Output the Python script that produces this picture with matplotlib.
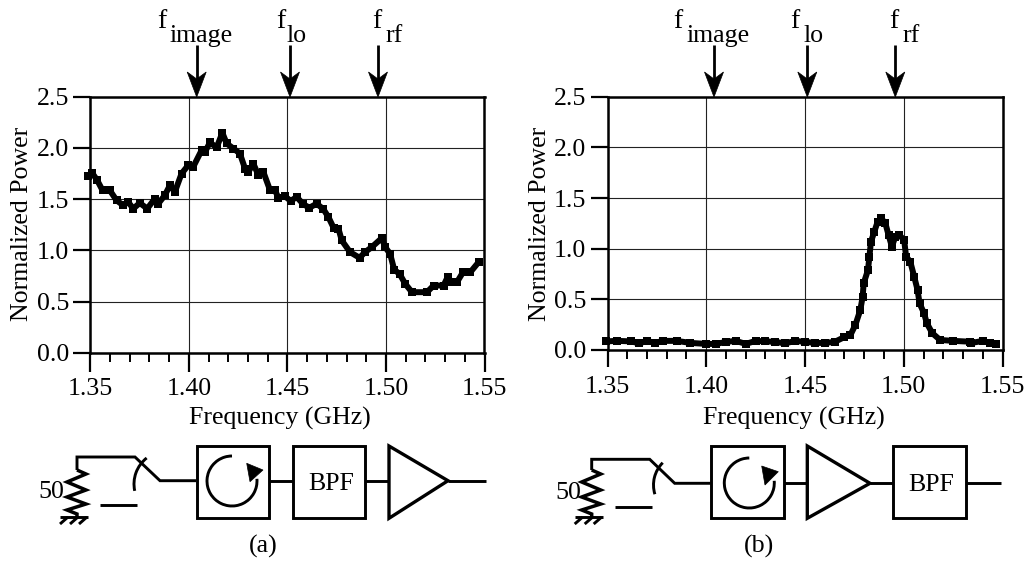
import numpy as np
import matplotlib
matplotlib.use("Agg")
import matplotlib.pyplot as plt
from matplotlib.patches import Polygon, Rectangle, Arc

plt.rcParams['font.family'] = ['Liberation Serif', 'DejaVu Serif']

W, H = 1029, 561
FS = 18.6

left_freq = [1.3489,1.3509,1.3535,1.3562,1.3599,1.3633,1.3667,1.3692,1.3718,1.3751,1.3789,1.3828,1.3845,1.3878,
             1.3904,1.3929,1.3963,1.3997,1.4022,1.4065,1.4082,1.4107,1.4141,1.4170,1.4192,1.4226,1.4259,1.4285,
             1.4302,1.4327,1.4353,1.4378,1.4412,1.4437,1.4454,1.4488,1.4517,1.4547,1.4581,1.4612,1.4649,1.4683,
             1.4708,1.4734,1.4759,1.4776,1.4818,1.4866,1.4894,1.4928,1.4979,1.4996,1.5021,1.5042,1.5069,1.5098,
             1.5132,1.5208,1.5242,1.5292,1.5313,1.5335,1.5360,1.5391,1.5428,1.5470]
left_power = [1.727,1.756,1.684,1.586,1.586,1.488,1.439,1.472,1.407,1.462,1.407,1.505,1.456,1.537,
              1.635,1.570,1.749,1.831,1.814,1.978,1.961,2.053,2.004,2.147,2.043,1.994,1.945,1.798,
              1.765,1.847,1.733,1.765,1.586,1.586,1.514,1.527,1.482,1.521,1.449,1.416,1.456,1.400,
              1.325,1.221,1.211,1.096,0.982,0.927,0.982,1.031,1.119,1.031,0.966,0.810,0.770,0.672,
              0.591,0.591,0.656,0.656,0.738,0.688,0.688,0.786,0.786,0.884]

right_freq = [1.349,1.355,1.362,1.366,1.370,1.374,1.378,1.385,1.392,1.400,1.405,1.410,1.415,1.420,1.425,1.430,
              1.435,1.440,1.445,1.450,1.455,1.460,1.465,1.4697,1.473,1.4755,1.478,1.4792,1.4797,1.4819,1.4826,
              1.4834,1.4851,1.4868,1.4886,1.4907,1.4923,1.494,1.4957,1.4977,1.5002,1.5012,1.5033,1.5053,1.507,
              1.508,1.5103,1.5117,1.5145,1.5184,1.5251,1.5335,1.5343,1.5402,1.5436,1.5469]
right_power = [0.085,0.09,0.085,0.065,0.09,0.07,0.09,0.09,0.07,0.06,0.06,0.08,0.09,0.06,0.09,0.085,
               0.08,0.065,0.09,0.08,0.07,0.07,0.08,0.125,0.148,0.247,0.395,0.526,0.658,0.790,0.921,
               1.069,1.168,1.267,1.300,1.250,1.135,1.020,1.118,1.135,1.086,0.921,0.872,0.723,0.592,
               0.461,0.362,0.263,0.165,0.099,0.09,0.082,0.07,0.09,0.067,0.06]

x_major = [1.35, 1.40, 1.45, 1.50, 1.55]
x_minor = [1.36,1.37,1.38,1.39,1.41,1.42,1.43,1.44,1.46,1.47,1.48,1.49,1.51,1.52,1.53,1.54]
y_major = [0.0, 0.5, 1.0, 1.5, 2.0, 2.5]
x_labels = ['1.35', '1.40', '1.45', '1.50', '1.55']
y_labels = ['0.0', '0.5', '1.0', '1.5', '2.0', '2.5']

fig = plt.figure(figsize=(W / 100, H / 100), dpi=100, facecolor='white')


def make_axes(x0, x1, y0, y1, fx, fy, major_len, xpad):
    ax = fig.add_axes([x0 / W, 1 - y1 / H, (x1 - x0) / W, (y1 - y0) / H])
    ax.set_xlim(1.35, 1.55)
    ax.set_ylim(0, 2.5)
    ax.grid(True, which='major', color='#222222', lw=0.8)
    ax.set_axisbelow(True)
    ax.plot(fx, fy, color='black', lw=4.3, marker='s', ms=5.6, mew=0, clip_on=False, zorder=3)
    ax.set_xticks(x_major, x_labels, fontsize=FS)
    ax.set_xticks(x_minor, minor=True)
    ax.set_yticks(y_major, y_labels, fontsize=FS)
    ax.tick_params(axis='x', which='major', length=major_len, width=1.6, pad=xpad)
    ax.tick_params(axis='x', which='minor', length=6.8, width=1.4)
    ax.tick_params(axis='y', which='major', length=12.4, width=1.6, pad=3)
    for s in ax.spines.values():
        s.set_linewidth(1.8)
    return ax


make_axes(90.3, 484.5, 96.7, 352.7, left_freq, left_power, 13.9, 4)
make_axes(607.5, 1002.5, 96.7, 350.0, right_freq, right_power, 12.0, 7)

ov = fig.add_axes([0, 0, 1, 1], facecolor='none', zorder=10)
ov.set_xlim(0, W)
ov.set_ylim(H, 0)
ov.axis('off')
LW = 2.1


def wire(xs, ys, lw=LW):
    ov.plot(xs, ys, color='black', lw=lw, solid_capstyle='butt', solid_joinstyle='miter')


def box(x0, x1, y0, y1):
    ov.add_patch(Rectangle((x0, y0), x1 - x0, y1 - y0, fill=False, ec='black', lw=LW))


def text(x, y, s, **kw):
    kw.setdefault('ha', 'center')
    kw.setdefault('va', 'center')
    ov.text(x, y, s, fontsize=FS, color='black', **kw)


def arrow(x):
    wire([x, x], [45, 82], lw=2.0)
    ov.add_patch(Polygon([(x, 97), (x - 9.5, 72), (x, 79), (x + 9.5, 72)], fc='black', ec='black', lw=0.5))


def header(f_pos, sub_pos, arrows):
    for fx_, sx_, s, a in zip(f_pos, sub_pos, ['image', 'lo', 'rf'], arrows):
        ov.text(fx_, 28, 'f', fontsize=FS + 1.5, ha='left', va='baseline')
        text(sx_, 41.5, s, ha='left', va='baseline')
        arrow(a)


def front_end(x, top_y, mid_y, low_y, arc_c, arc_d, arc_t, circ, head):
    wire([x, x, x + 58, x + 83, x + 119], [470, top_y, top_y, mid_y, mid_y])
    zig_x = [x, x + 9, x - 10, x + 9, x - 10, x + 9, x - 10, x, x]
    zig_y = [470, 474, 482, 490, 497, 504, 510, 514, 517]
    wire(zig_x, zig_y, lw=2.5)
    wire([x - 17, x + 11], [517, 517])
    for d in (-9, 1, 10):
        wire([x + d, x + d - 8], [517, 524])
    wire([x + 23, x + 60], [low_y, low_y])
    ov.add_patch(Arc(arc_c, arc_d, arc_d, theta1=arc_t[0], theta2=arc_t[1], color='black', lw=LW))
    ov.add_patch(Arc(circ[0], 2 * circ[1], 2 * circ[1], theta1=-5, theta2=270, color='black', lw=LW))
    ov.add_patch(Polygon(head, fc='black', ec='black', lw=0.5))


# ---- panel (a)
header([157, 276, 372], [169, 287, 385], [196.7, 290, 378])
text(22, 224, 'Normalized Power', rotation=90)
text(279.5, 418, 'Frequency (GHz)')
front_end(77, 457, 480.7, 505, (167, 484), 66, (168, 232), ((232, 481), 25),
          [(246.7, 463.3), (263, 470), (250, 481.7)])
box(196.7, 269.3, 446, 517.7)
wire([269.3, 293.3], [480.7, 480.7])
box(293.3, 365, 446, 517.7)
text(331, 484, 'BPF')
wire([365, 389], [480.7, 480.7])
ov.add_patch(Polygon([(389, 446), (448, 480.7), (389, 518.3)], fill=False, ec='black', lw=2.4))
wire([448, 486], [480.7, 480.7])
text(51, 492, '50')
text(263, 546, '(a)')

# ---- panel (b)
header([673, 790.7, 889], [686.7, 804, 902.7], [714, 807.3, 895.3])
text(540, 224, 'Normalized Power', rotation=90)
text(794, 418, 'Frequency (GHz)')
front_end(591.7, 459.3, 483.3, 507, (685, 485), 63, (163, 225), ((749.3, 483), 25),
          [(761.7, 466), (778.3, 471.7), (765, 485)])
box(711, 784, 446, 518)
wire([784, 807.3], [483.3, 483.3])
ov.add_patch(Polygon([(807.3, 446), (870, 483.3), (807.3, 518.3)], fill=False, ec='black', lw=2.4))
wire([870, 892.7], [483.3, 483.3])
box(892.7, 966, 446, 518)
text(931.7, 485, 'BPF')
wire([966, 1000.7], [483.3, 483.3])
text(568, 493, '50')
text(759, 546, '(b)')

fig.savefig('out.png', dpi=100)
